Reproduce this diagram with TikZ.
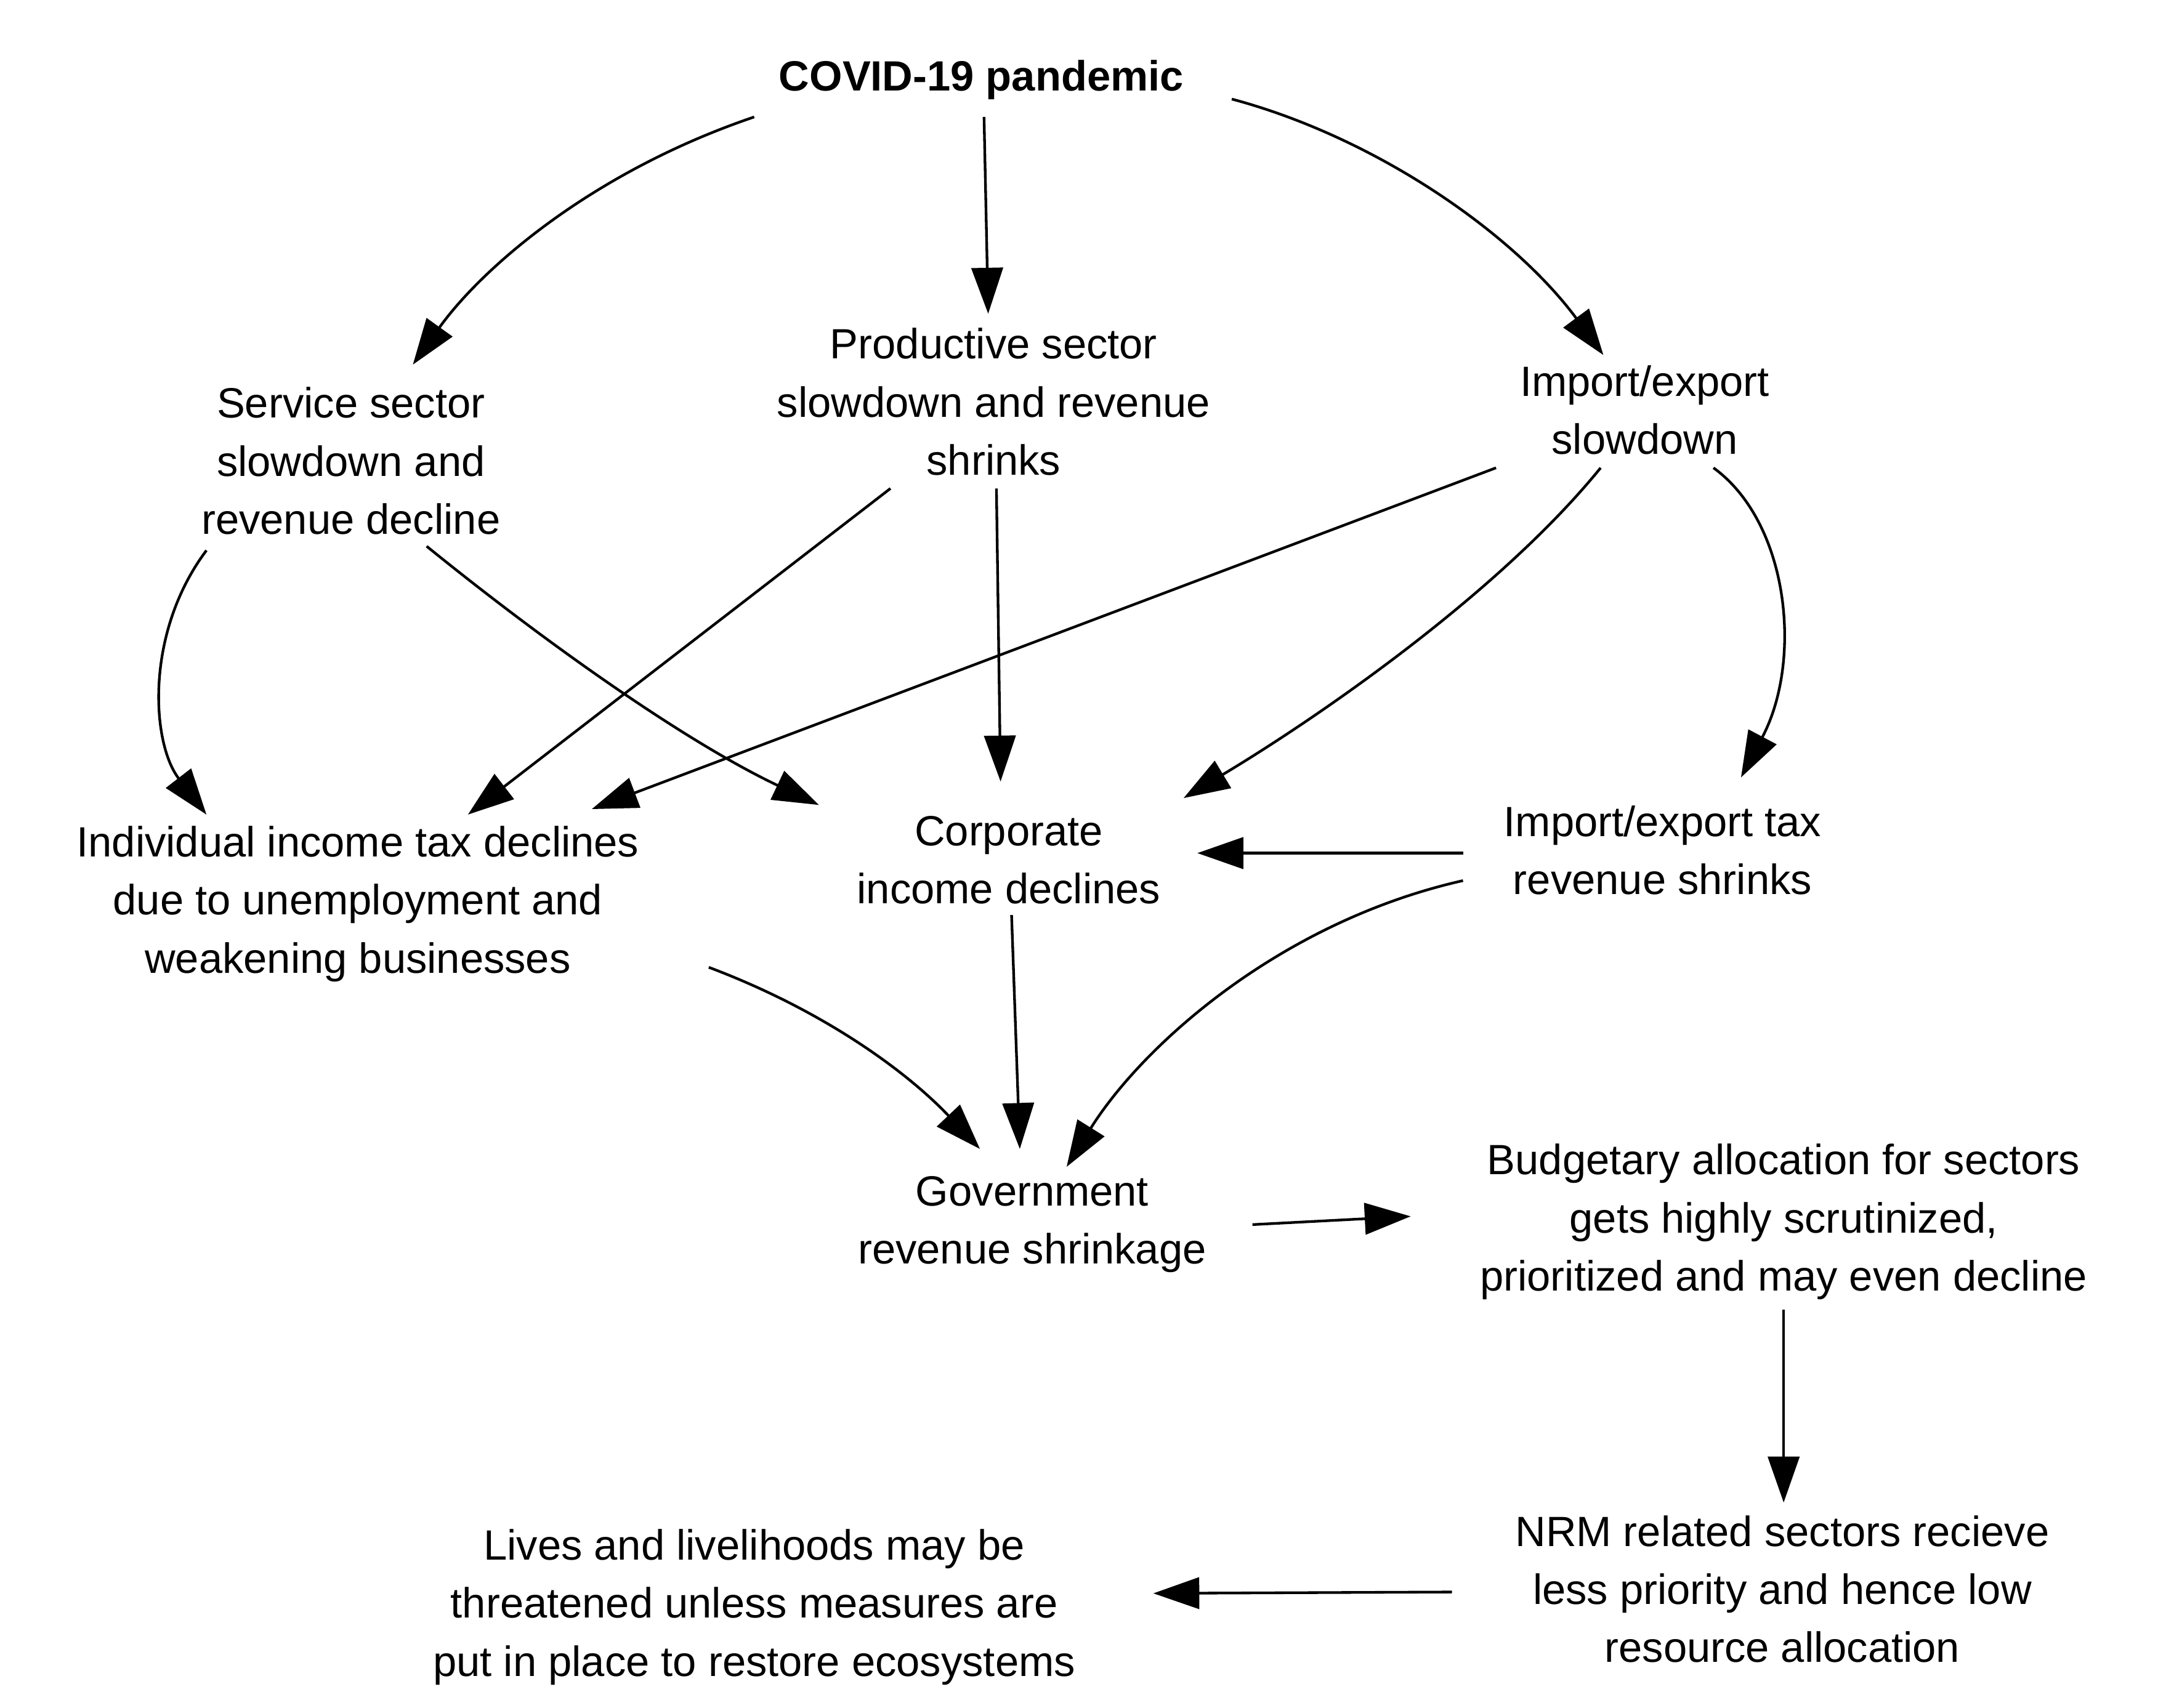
\documentclass[tikz,border=0pt]{standalone}
\usepackage{fontspec}
\setmainfont{Liberation Sans}
\usetikzlibrary{arrows.meta}
\begin{document}
\begin{tikzpicture}[x=0.2mm,y=-0.2mm,
  lbl/.style={align=center,font=\fontsize{17.5}{24}\selectfont,inner sep=0pt},
  arr/.style={line width=1.1pt,-{Triangle[length=19pt,width=13pt]}}]
\useasboundingbox (0,0) rectangle (1568,1241);
\node[lbl,font=\fontsize{17.5}{24}\selectfont\bfseries] (covid) at (713,58) {COVID-19 pandemic};
\node[lbl] (serv) at (255,335) {Service sector\\slowdown and\\revenue decline};
\node[lbl] (prod) at (722,292) {Productive sector\\slowdown and revenue\\shrinks};
\node[lbl] (imp) at (1195,298) {Import/export\\slowdown};
\node[lbl] (ind) at (260,657) {Individual income tax declines\\due to unemployment and\\weakening businesses};
\node[lbl] (corp) at (733,625) {Corporate\\income declines};
\node[lbl] (itax) at (1208,618) {Import/export tax\\revenue shrinks};
\node[lbl] (gov) at (750,890) {Government\\revenue shrinkage};
\node[lbl] (bud) at (1296,888) {Budgetary allocation for sectors\\gets highly scrutinized,\\prioritized and may even decline};
\node[lbl] (nrm) at (1295,1155) {NRM related sectors recieve\\less priority and hence low\\resource allocation};
\node[lbl] (lives) at (548,1168) {Lives and livelihoods may be\\threatened unless measures are\\put in place to restore ecosystems};
\draw[arr] (548,85) .. controls (430,125) and (350,195) .. (300,265);
\draw[arr] (715,85) -- (718,228);
\draw[arr] (895,72) .. controls (1000,100) and (1100,170) .. (1165,258);
\draw[arr] (150,400) .. controls (105,460) and (110,540) .. (150,592);
\draw[arr] (310,397) .. controls (400,470) and (500,540) .. (595,585);
\draw[arr] (647,355) -- (340,592);
\draw[arr] (724,355) -- (727,568);
\draw[arr] (1087,340) -- (430,588);
\draw[arr] (1163,340) .. controls (1090,430) and (960,520) .. (860,580);
\draw[arr] (1245,340) .. controls (1300,380) and (1310,480) .. (1265,565);
\draw[arr] (1063,620) -- (870,620);
\draw[arr] (515,703) .. controls (600,735) and (660,780) .. (712,835);
\draw[arr] (735,665) -- (741,835);
\draw[arr] (1063,640) .. controls (930,670) and (830,760) .. (775,848);
\draw[arr] (910,890) -- (1025,884);
\draw[arr] (1296,952) -- (1296,1092);
\draw[arr] (1055,1157) -- (838,1158);
\end{tikzpicture}
\end{document}
